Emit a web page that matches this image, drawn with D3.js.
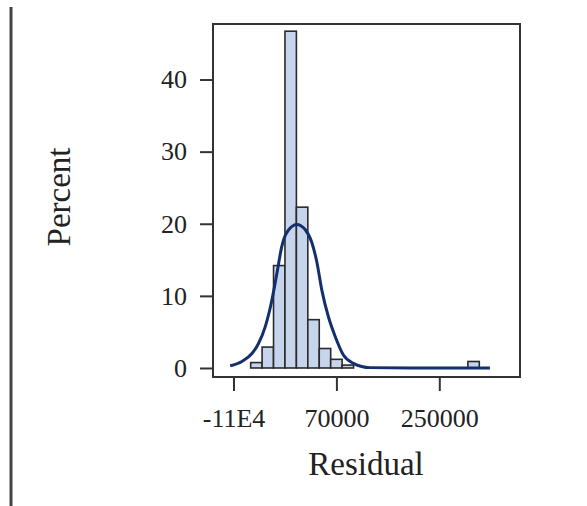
<!DOCTYPE html>
<html>
<head>
<meta charset="utf-8">
<script src="https://cdn.jsdelivr.net/npm/d3@7"></script>
<style>
  body { margin: 0; background: #fff; }
  #graf { width: 587px; height: 506px; }
  text { font-family: 'Liberation Serif', 'DejaVu Serif', serif; fill: #222; }
</style>
</head>
<body>
<div id="graf"></div>
<script>
// -- Datos
binLo = [-80000, -60000, -40000, -20000, 0, 20000, 40000, 60000, 80000, 300000]
binPct = [0.75, 2.9, 14.2, 46.7, 22.3, 6.7, 2.7, 1.2, 0.4, 0.9]
binWidth = 20000

curveX = [-115800, -95300, -77800, -66300, -54600, -42900, -34150, -25400, -16700, 800, 15300, 27000, 35750, 44500, 56000, 67700, 82200, 99700, 128900, 200000, 338600]
curveY = [0.3, 0.9, 2.0, 3.4, 5.7, 9.4, 13.1, 16.9, 18.8, 19.9, 19.2, 17.4, 14.7, 10.8, 7.1, 4.4, 1.8, 0.65, 0.05, 0, 0]

yTicks = [0, 10, 20, 30, 40]
xTicks = [-110000, 70000, 250000]
xTickLabels = ['-11E4', '70000', '250000']

// -- Configuracion del canvas
ancho_total = 587
alto_total = 506
margins = {top: 24, left: 213, right: 67, bottom: 129}
ancho = ancho_total - margins.left - margins.right
alto = alto_total - margins.top - margins.bottom

svg = d3.select('#graf').append('svg')
        .attr('width', ancho_total)
        .attr('height', alto_total)

// -- linea vertical a la izquierda
svg.append('line')
    .attr('x1', 11).attr('x2', 11)
    .attr('y1', 7).attr('y2', alto_total)
    .attr('stroke', '#444')
    .attr('stroke-width', 3)

g = svg.append('g')
       .attr('transform', `translate(${margins.left}, ${margins.top})`)

// -- Escaladores
x = d3.scaleLinear().domain([-145900, 391200]).range([0, ancho])
y = d3.scaleLinear().domain([-1.25, 47.7]).range([alto, 0])

// -- Barras del histograma
g.selectAll('rect.bar')
    .data(binLo)
    .enter()
    .append('rect')
        .attr('class', 'bar')
        .attr('x', d => x(d))
        .attr('width', d => x(d + binWidth) - x(d))
        .attr('y', (d, i) => y(binPct[i]))
        .attr('height', (d, i) => y(0) - y(binPct[i]))
        .attr('fill', '#c6d5eb')
        .attr('stroke', '#2a2a2a')
        .attr('stroke-width', 1.6)

// -- Curva normal
linea = d3.line()
          .x(d => x(d[0]))
          .y(d => y(d[1]))
          .curve(d3.curveMonotoneX)

g.append('path')
    .datum(curveX.map((v, i) => [v, curveY[i]]))
    .attr('d', linea)
    .attr('fill', 'none')
    .attr('stroke', '#132f6e')
    .attr('stroke-width', 3)

// -- Marco
g.append('rect')
    .attr('x', 0)
    .attr('y', 0)
    .attr('width', ancho)
    .attr('height', alto)
    .attr('fill', 'none')
    .attr('stroke', '#333')
    .attr('stroke-width', 2)

// -- Ejes
yAxis = d3.axisLeft(y)
          .tickValues(yTicks)
          .tickSize(13)
          .tickPadding(13)
xAxis = d3.axisBottom(x)
          .tickValues(xTicks)
          .tickFormat((d, i) => xTickLabels[i])
          .tickSize(14)
          .tickPadding(18)

gy = g.append('g').call(yAxis)
gx = g.append('g').attr('transform', `translate(0, ${alto})`).call(xAxis)

for (ax of [gx, gy]) {
    ax.select('.domain').remove()
    ax.selectAll('.tick line').attr('stroke', '#333').attr('stroke-width', 2)
    ax.selectAll('.tick text')
        .attr('font-family', "'Liberation Serif', serif")
        .attr('font-size', '26px')
        .attr('fill', '#222')
}

// -- Titulos de ejes
svg.append('text')
    .attr('x', 366)
    .attr('y', 475)
    .attr('text-anchor', 'middle')
    .attr('font-size', '33px')
    .text('Residual')

svg.append('text')
    .attr('transform', 'translate(70, 197) rotate(-90)')
    .attr('text-anchor', 'middle')
    .attr('font-size', '33px')
    .text('Percent')
</script>
</body>
</html>
